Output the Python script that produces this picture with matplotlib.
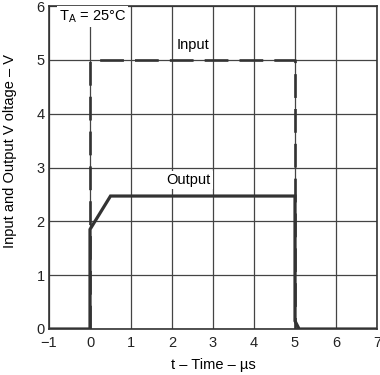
import matplotlib
matplotlib.use("Agg")
import matplotlib.pyplot as plt

# data
in_t = [0, 0, 5, 5]
in_v = [0, 5, 5, 0]
out_t = [-1, 0, 0, 0.5, 5, 5, 5.1, 7]
out_v = [0, 0, 1.85, 2.47, 2.47, 0.15, 0, 0]
xticks = [-1, 0, 1, 2, 3, 4, 5, 6, 7]
yticks = [0, 1, 2, 3, 4, 5, 6]


def main():
    plt.rcParams["font.family"] = ["Liberation Sans", "DejaVu Sans"]
    plt.rcParams["font.size"] = 10.5
    plt.rcParams["axes.linewidth"] = 1.2

    fig = plt.figure(figsize=(3.8, 3.75), dpi=100)
    ax = fig.add_axes([49 / 380, 46 / 375, 328 / 380, 323 / 375])

    ax.plot(in_t, in_v, color="#333333", lw=1.9, dashes=(9, 4.2))
    ax.plot(out_t, out_v, color="#333333", lw=2.3, solid_joinstyle="miter")

    ax.set_xlim(-1, 7)
    ax.set_ylim(0, 6)
    ax.set_xticks(xticks)
    ax.set_yticks(yticks)
    ax.set_xticklabels(["\u22121" if v < 0 else str(v) for v in xticks])
    ax.grid(True, color="#444444", lw=0.9)
    ax.set_axisbelow(True)
    ax.tick_params(axis="y", length=0, pad=3, labelsize=10.5, colors="#222222")
    ax.tick_params(axis="x", length=0, pad=5, labelsize=10.5, colors="#222222")
    for s in ax.spines.values():
        s.set_color("#333333")

    box = dict(facecolor="white", edgecolor="none", pad=1.5)
    ax.text(-0.75, 5.8, r"T$_\mathregular{A}$ = 25°C", fontsize=10.5,
            va="center", ha="left", bbox=box)
    ax.text(2.5, 5.27, "Input", fontsize=10.5, ha="center", va="center", bbox=box)
    ax.text(2.4, 2.76, "Output", fontsize=10.5, ha="center", va="center", bbox=box)

    ax.set_xlabel("t \u2013 Time \u2013 µs", fontsize=10.5, labelpad=6)
    ax.set_ylabel("Input and Output V oltage \u2013 V", fontsize=10.5, labelpad=14)
    ax.yaxis.label.set_y(0.55)

    fig.savefig("out.png", dpi=100)
    plt.close(fig)


if __name__ == "__main__":
    main()
